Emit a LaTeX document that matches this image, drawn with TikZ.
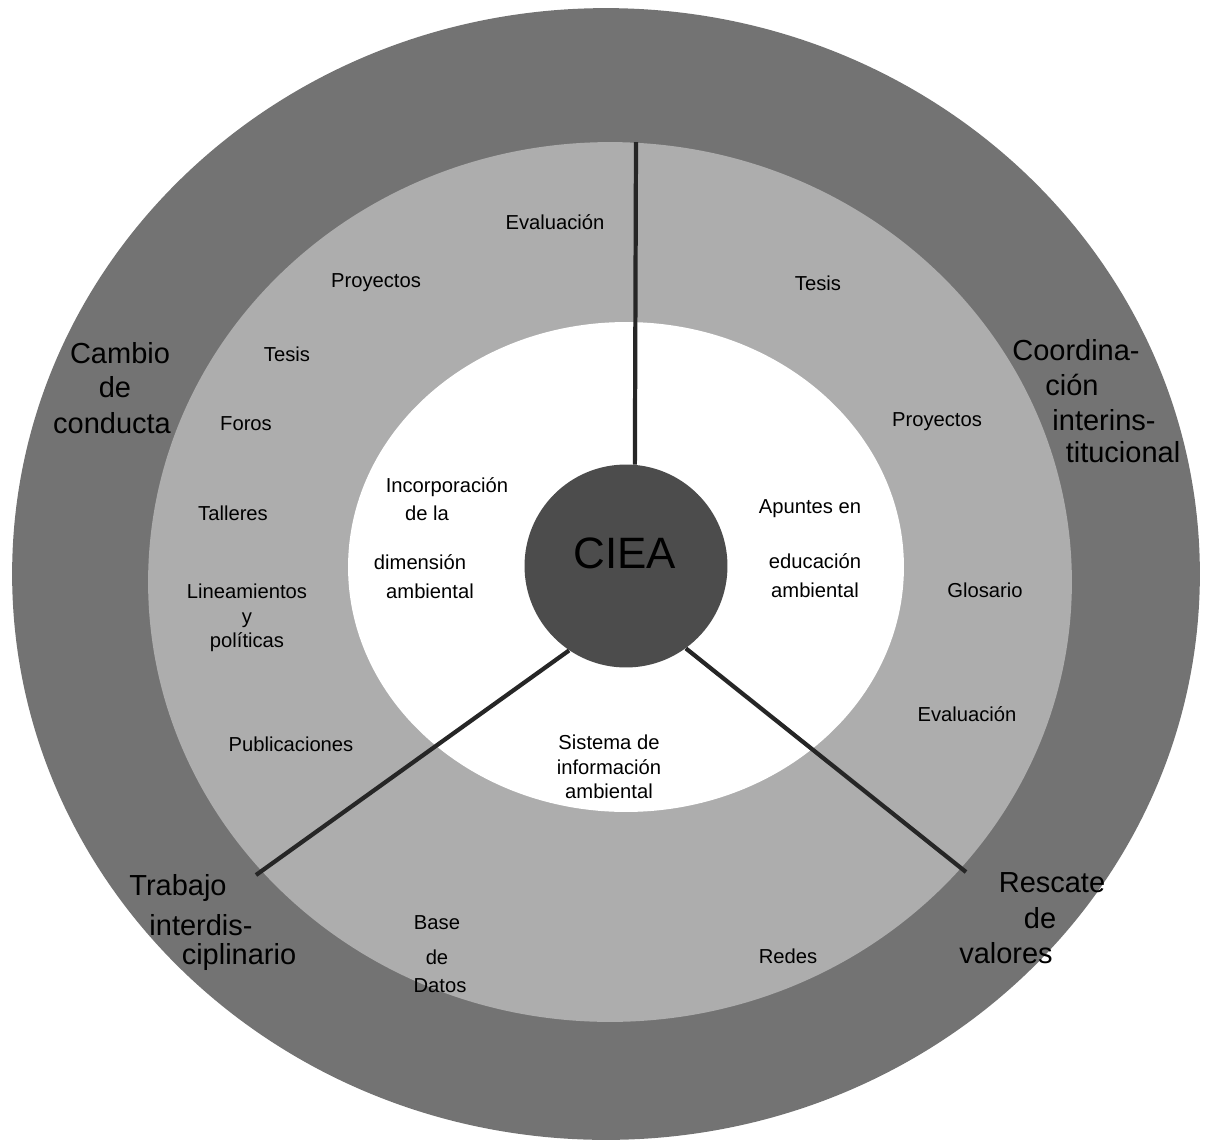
\documentclass[tikz,border=0pt]{standalone}
\usepackage{fontspec}
\setmainfont{Liberation Sans}
\definecolor{outerring}{gray}{0.45}
\definecolor{midring}{gray}{0.68}
\definecolor{corefill}{gray}{0.3}
\begin{document}
\begin{tikzpicture}[x=0.02cm,y=-0.02cm,
        smalltxt/.style={font=\fontsize{11.5}{14}\selectfont, inner sep=0pt, align=center},
        bigtxt/.style={font=\fontsize{16.5}{19}\selectfont, inner sep=0pt},
        spoke/.style={line width=2.4pt, draw=black!85}]
        \useasboundingbox (0,0) rectangle (1205,1144);
        % rings
        \fill[outerring] (606,574) ellipse [x radius=11.88cm, y radius=11.32cm];
        \fill[midring] (610,582) ellipse [x radius=9.24cm, y radius=8.8cm];
        \fill[white] (626,567) ellipse [x radius=5.56cm, y radius=4.9cm];
        \node (ciea) [circle, fill=corefill, minimum size=4.06cm, inner sep=0pt] at (626,566) {};
        \node (cieatext) [font=\fontsize{25}{28}\selectfont, text=black] at (625,553) {CIEA};
        % spokes
        \coordinate (topend) at (636,142);
        \coordinate (leftend) at (256,875);
        \coordinate (rightend) at (966,872);
        \draw[spoke] (ciea.85) -- (topend);
        \draw[spoke] (ciea.236) -- (leftend);
        \draw[spoke] (ciea.306) -- (rightend);
        % middle ring
        \node (evaltop) [smalltxt] at (555,222) {Evaluación};
        \node (proyleft) [smalltxt] at (376,283) {Proyectos};
        \node (tesisright) [smalltxt] at (818,283) {Tesis};
        \node (tesisleft) [smalltxt] at (287,354) {Tesis};
        \node (foros) [smalltxt] at (246,424) {Foros};
        \node (talleres) [smalltxt] at (233,513) {Talleres};
        \node (lineam) [smalltxt] at (247,618) {Lineamientos\\y\\políticas};
        \node (public) [smalltxt] at (291,744) {Publicaciones};
        \node (proyright) [smalltxt] at (937,422) {Proyectos};
        \node (glosario) [smalltxt] at (985,590) {Glosario};
        \node (evalright) [smalltxt] at (967,714) {Evaluación};
        \node (base) [smalltxt] at (437,923) {Base};
        \node (basede) [smalltxt] at (437,957) {de};
        \node (datos) [smalltxt] at (440,986) {Datos};
        \node (redes) [smalltxt] at (788,956) {Redes};
        % inner circle
        \node (incorp) [smalltxt] at (447,487) {Incorporación};
        \node (dela) [smalltxt] at (427,513) {de la};
        \node (dimen) [smalltxt] at (420,562) {dimensión};
        \node (ambleft) [smalltxt] at (430,591) {ambiental};
        \node (apuntes) [smalltxt] at (810,509) {Apuntes en};
        \node (educ) [smalltxt] at (815,561) {educación};
        \node (ambright) [smalltxt] at (815,590) {ambiental};
        \node (sistema) [smalltxt] at (609,767) {Sistema de\\información\\ambiental};
        % outer ring
        \node (cambio) [bigtxt] at (120,353) {Cambio};
        \node (cambiode) [bigtxt] at (115,387) {de};
        \node (conducta) [bigtxt] at (112,423) {conducta};
        \node (coord1) [bigtxt] at (1076,350) {Coordina-};
        \node (coord2) [bigtxt] at (1072,385) {ción};
        \node (coord3) [bigtxt] at (1104,420) {interins-};
        \node (coord4) [bigtxt] at (1123,452) {titucional};
        \node (trab1) [bigtxt] at (178,888) {Trabajo};
        \node (trab2) [bigtxt] at (201,925) {interdis-};
        \node (trab3) [bigtxt] at (239,957) {ciplinario};
        \node (resc1) [bigtxt] at (1052,883) {Rescate};
        \node (resc2) [bigtxt] at (1040,918) {de};
        \node (resc3) [bigtxt] at (1006,953) {valores};
\end{tikzpicture}
\end{document}
